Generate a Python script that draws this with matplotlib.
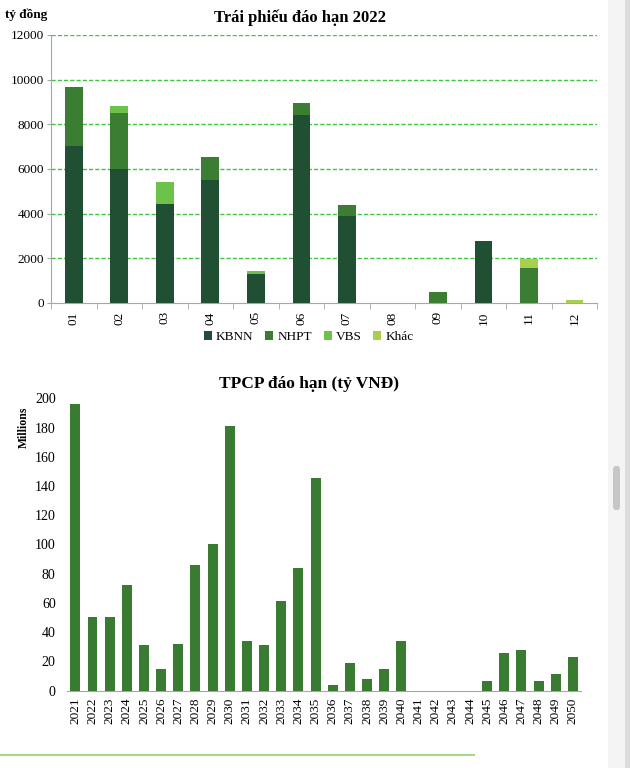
import matplotlib
matplotlib.use("Agg")
import matplotlib.pyplot as plt
from matplotlib.patches import Patch, Rectangle, FancyBboxPatch
from matplotlib.lines import Line2D
import numpy as np

plt.rcParams['font.family'] = ['Liberation Serif', 'DejaVu Serif']

# ---- Data: top chart (Trái phiếu đáo hạn 2022) ----
months = ["01", "02", "03", "04", "05", "06", "07", "08", "09", "10", "11", "12"]
kbnn = [7030, 6000, 4420, 5500, 1310, 8420, 3880, 0, 0, 2790, 0, 0]
nhpt = [2660, 2500, 0, 1020, 0, 530, 520, 0, 470, 0, 1570, 0]
vbs = [0, 300, 1000, 0, 120, 0, 0, 0, 0, 0, 0, 0]
khac = [0, 0, 0, 0, 0, 0, 0, 0, 0, 0, 390, 150]
series_names = ["KBNN", "NHPT", "VBS", "Khác"]
series_colors = ["#214f33", "#3b7d33", "#6cc24a", "#a9d04c"]

# ---- Data: bottom chart (TPCP đáo hạn) ----
years = [str(y) for y in range(2021, 2051)]
tpcp = [196, 50.5, 50.5, 72, 31.5, 15, 32, 86, 100, 181,
        34, 31, 61.5, 83.7, 145.5, 3.6, 19.2, 7.8, 14.6, 34,
        0, 0, 0, 0, 6.6, 25.5, 27.8, 6.6, 11.4, 22.8]
bar_color = "#3a7b32"

fig = plt.figure(figsize=(6.3, 7.68), dpi=100)
fig.patch.set_facecolor("white")

spine_col = "#a6a6a6"

# ---------- Top chart ----------
ax1 = fig.add_axes([0.081, 0.6055, 0.867, 0.349])
x = np.arange(len(months))
bottom = np.zeros(len(months))
for vals, col, name in zip([kbnn, nhpt, vbs, khac], series_colors, series_names):
    v = np.array(vals, dtype=float)
    ax1.bar(x, v, bottom=bottom, width=0.39, color=col, label=name, zorder=3)
    bottom += v
ax1.set_xlim(-0.5, len(months) - 0.5)
ax1.set_ylim(0, 12000)
ax1.set_yticks(np.arange(0, 12001, 2000))
ax1.set_yticklabels([str(v) for v in range(0, 12001, 2000)], fontsize=9.5)
ax1.set_xticks(x)
ax1.set_xticklabels(months, rotation=90, fontsize=9.5)
ax1.set_xticks(np.arange(-0.5, len(months), 1), minor=True)
ax1.tick_params(axis='x', which='major', length=0, pad=6)
ax1.tick_params(axis='x', which='minor', length=4, color=spine_col, direction='out')
ax1.tick_params(axis='y', length=3, color=spine_col, pad=2)
for v in range(2000, 12001, 2000):
    ax1.axhline(v, color="#3fc63f", linestyle=(0, (3, 1.5)), linewidth=1.0, zorder=1)
for s in ["top", "right"]:
    ax1.spines[s].set_visible(False)
ax1.spines["left"].set_color(spine_col)
ax1.spines["bottom"].set_color(spine_col)
fig.text(300 / 630, 1 - 18 / 768, "Trái phiếu đáo hạn 2022", fontsize=12,
         fontweight='bold', ha='center', va='center')
fig.text(0.008, 0.981, "tỷ đồng", fontsize=9.5, fontweight='bold', ha='left', va='center')

handles = [Patch(facecolor=c, edgecolor='none') for c in series_colors]
fig.legend(handles, series_names, loc='center', bbox_to_anchor=(0.49, 0.561), ncol=4,
           frameon=False, fontsize=9.5, handlelength=0.6, handleheight=0.6,
           handletextpad=0.3, columnspacing=0.9)

# ---------- Bottom chart ----------
ax2 = fig.add_axes([0.106, 0.1007, 0.817, 0.3807])
x2 = np.arange(len(years))
ax2.bar(x2, tpcp, width=0.58, color=bar_color, zorder=3)
ax2.set_xlim(-0.5, len(years) - 0.5)
ax2.set_ylim(0, 200)
ax2.set_yticks(np.arange(0, 201, 20))
ax2.set_yticklabels([str(v) for v in range(0, 201, 20)], fontsize=10)
ax2.set_xticks(x2)
ax2.set_xticklabels(years, rotation=90, fontsize=9.5)
ax2.tick_params(axis='x', length=0, pad=5)
ax2.tick_params(axis='y', length=0, pad=8)
for s in ["top", "right", "left"]:
    ax2.spines[s].set_visible(False)
ax2.spines["bottom"].set_color(spine_col)
ax2.set_ylabel("Millions", fontsize=8.5, fontweight='bold', labelpad=6)
ax2.yaxis.set_label_coords(-0.072, 0.9)
fig.text(309 / 630, 1 - 384 / 768, "TPCP đáo hạn (tỷ VNĐ)", fontsize=12.5,
         fontweight='bold', ha='center', va='center')

# decorative separator line at the bottom
fig.add_artist(Line2D([0.0, 0.752], [0.017, 0.017], color="#a9d88a", linewidth=1.5))

# screenshot side panel (scrollbar area)
fig.add_artist(Rectangle((608 / 630, 0), 17 / 630, 1, transform=fig.transFigure,
                         facecolor="#f4f4f4", edgecolor="none"))
fig.add_artist(Rectangle((625 / 630, 0), 5 / 630, 1, transform=fig.transFigure,
                         facecolor="#dcdcdc", edgecolor="none"))
fig.add_artist(FancyBboxPatch((613 / 630, 1 - 510 / 768), 7 / 630, 44 / 768,
                              boxstyle="round,pad=0,rounding_size=0.005",
                              transform=fig.transFigure, facecolor="#c6c6c6",
                              edgecolor="none"))

fig.savefig("out.png", dpi=100, facecolor="white")
